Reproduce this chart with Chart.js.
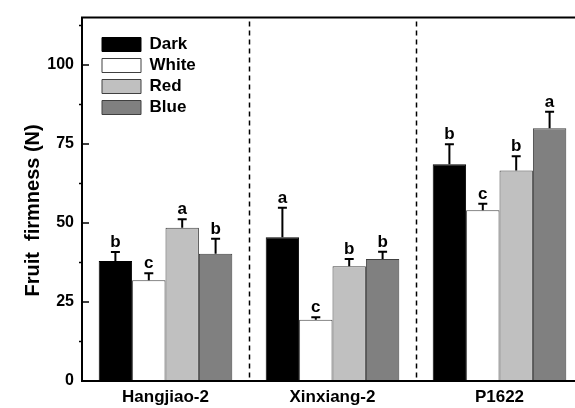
<!DOCTYPE html>
<html><head><meta charset="utf-8">
<script src="https://cdn.jsdelivr.net/npm/chart.js@4"></script>
<style>html,body{margin:0;padding:0;overflow:hidden;background:#fff;width:575px;height:408px}</style>
</head><body>
<canvas id="c" width="600" height="408" style="width:600px;height:408px;display:block"></canvas>
<script>
// ---- data ----
const categories = ['Hangjiao-2', 'Xinxiang-2', 'P1622'];
const seriesNames = ['Dark', 'White', 'Red', 'Blue'];
const darkValues  = [38.0, 45.5, 68.6];
const whiteValues = [31.9, 19.4, 54.0];
const redValues   = [48.5, 36.3, 66.6];
const blueValues  = [40.3, 38.6, 80.0];
const darkErrors  = [2.8, 9.3, 6.3];
const whiteErrors = [2.2, 0.8, 2.1];
const redErrors   = [2.7, 2.3, 4.5];
const blueErrors  = [4.7, 2.3, 5.2];
const darkLetters  = ['b', 'a', 'b'];
const whiteLetters = ['c', 'c', 'c'];
const redLetters   = ['a', 'b', 'b'];
const blueLetters  = ['b', 'b', 'a'];
const yTickValues  = [0, 25, 50, 75, 100];
const yMinorValues = [12.5, 37.5, 62.5, 87.5, 112.5];
const yMax = 115;
const yTitle = 'Fruit  firmness (N)    ';

const FONT = '"Liberation Sans", Arial, Helvetica, sans-serif';
Chart.defaults.font.family = FONT;
Chart.defaults.color = '#000';

const fills = ['#000000', '#ffffff', '#c0c0c0', '#808080'];
const borders = ['#000000', '#404040', '#404040', '#404040'];
const valueSets = [darkValues, whiteValues, redValues, blueValues];
const errorSets = [darkErrors, whiteErrors, redErrors, blueErrors];
const letterSets = [darkLetters, whiteLetters, redLetters, blueLetters];

const datasets = seriesNames.map((name, i) => ({
  label: name,
  data: valueSets[i],
  errors: errorSets[i],
  letters: letterSets[i],
  backgroundColor: fills[i],
  borderColor: borders[i],
  borderWidth: 1,
  borderSkipped: false,
  categoryPercentage: 0.8,
  barPercentage: 1.0
}));

const decorPlugin = {
  id: 'decor',
  afterLayout(chart) {
    const lg = chart.legend;
    if (lg) { lg.left = 98; lg.top = 32; lg.bottom = 381; lg.right = 300; }
  },
  afterDatasetsDraw(chart) {
    const ctx = chart.ctx;
    const ca = chart.chartArea;
    const xs = chart.scales.x, ys = chart.scales.y;
    ctx.save();
    // dashed separators between categories
    ctx.strokeStyle = '#000';
    ctx.lineWidth = 1.5;
    ctx.setLineDash([5, 4]);
    for (let i = 0; i < categories.length - 1; i++) {
      const x = (xs.getPixelForTick(i) + xs.getPixelForTick(i + 1)) / 2;
      ctx.beginPath();
      ctx.moveTo(Math.round(x) + 0.5, ca.top + 4);
      ctx.lineTo(Math.round(x) + 0.5, ca.bottom);
      ctx.stroke();
    }
    ctx.setLineDash([]);
    // error bars and letters
    chart.data.datasets.forEach((ds, di) => {
      const meta = chart.getDatasetMeta(di);
      meta.data.forEach((bar, j) => {
        const v = ds.data[j], e = ds.errors[j];
        const yTop = ys.getPixelForValue(v + e);
        const x = bar.x;
        ctx.strokeStyle = '#000';
        ctx.lineWidth = 2;
        ctx.beginPath();
        ctx.moveTo(x, bar.y);
        ctx.lineTo(x, yTop);
        ctx.moveTo(x - 4.5, yTop);
        ctx.lineTo(x + 4.5, yTop);
        ctx.stroke();
        ctx.fillStyle = '#000';
        ctx.font = 'bold 17px ' + FONT;
        ctx.textAlign = 'center';
        ctx.textBaseline = 'alphabetic';
        ctx.fillText(ds.letters[j], x, yTop - 5);
      });
    });
    // frame
    ctx.lineWidth = 2;
    ctx.strokeStyle = '#000';
    ctx.beginPath();
    ctx.moveTo(ca.left, ca.top);
    ctx.lineTo(chart.width, ca.top);
    ctx.moveTo(ca.left, ca.top - 1);
    ctx.lineTo(ca.left, ca.bottom + 1);
    ctx.moveTo(ca.left - 1, ca.bottom);
    ctx.lineTo(chart.width, ca.bottom);
    ctx.stroke();
    // y ticks (major inward, minor outward)
    ctx.lineWidth = 1.5;
    ctx.beginPath();
    yTickValues.forEach(v => {
      const y = ys.getPixelForValue(v);
      ctx.moveTo(ca.left, y);
      ctx.lineTo(ca.left + 7, y);
    });
    yMinorValues.forEach(v => {
      const y = ys.getPixelForValue(v);
      ctx.moveTo(ca.left - 3, y);
      ctx.lineTo(ca.left, y);
    });
    ctx.stroke();
    ctx.restore();
  }
};

new Chart(document.getElementById('c'), {
  type: 'bar',
  data: { labels: categories, datasets },
  options: {
    responsive: false,
    animation: false,
    layout: { padding: { left: 0, top: 14, right: 17, bottom: 0 } },
    plugins: {
      legend: {
        position: 'chartArea',
        align: 'start',
        labels: {
          boxWidth: 39,
          boxHeight: 14,
          padding: 4,
          color: '#000',
          font: { size: 17, weight: 'bold', family: FONT }
        }
      },
      tooltip: { enabled: false }
    },
    scales: {
      x: {
        type: 'category',
        offset: true,
        grid: { display: false, drawTicks: false },
        border: { display: false },
        ticks: { padding: 6, color: '#000', font: { size: 17, weight: 'bold', family: FONT } },
        afterFit(scale) { scale.height = 27; }
      },
      y: {
        type: 'linear',
        min: 0,
        max: yMax,
        grid: { display: false, drawTicks: false },
        border: { display: false },
        afterBuildTicks(scale) { scale.ticks = yTickValues.map(v => ({ value: v })); },
        ticks: { padding: 8, color: '#000', font: { size: 16, weight: 'bold', family: FONT } },
        title: {
          display: true,
          text: yTitle,
          color: '#000',
          font: { size: 20, weight: 'bold', family: FONT },
          padding: { top: 21, bottom: 0 }
        },
        afterFit(scale) { scale.width = 82; }
      }
    }
  },
  plugins: [decorPlugin]
});
</script>
</body></html>
